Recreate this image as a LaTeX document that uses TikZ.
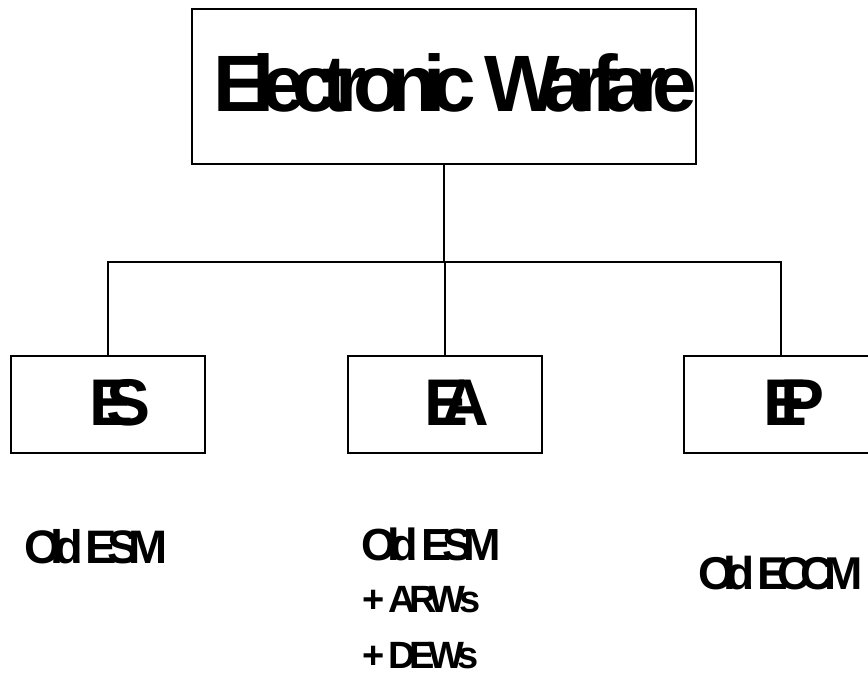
\documentclass[tikz,border=0pt]{standalone}
\usepackage{fontspec}
\setmainfont{Liberation Sans}[BoldFont={Liberation Sans Bold}]
\begin{document}
\begin{tikzpicture}[x=1pt,y=-1pt,
  boxed/.style={draw,line width=1.6pt,inner sep=0pt,minimum width=194pt,minimum height=97pt},
  lbl/.style={inner sep=0pt,anchor=base west},
  wire/.style={line width=1.6pt}]
\clip (0,0) rectangle (868,677);
\node[boxed,minimum width=504pt,minimum height=155pt] (ew) at (444,86.5) {};
\node[boxed] (es) at (108,404.5) {};
\node[boxed] (ea) at (445,404.5) {};
\node[boxed] (ep) at (781,404.5) {};
\coordinate (bar) at (0,262);
\draw[wire] (ew.south) -- (ew.south |- bar);
\draw[wire] (es.north) -- (es.north |- bar) -| (ep.north);
\draw[wire] (ea.north) -- (ea.north |- bar);
\node[lbl] (tew) at (213,111) {\fontsize{80}{80}\selectfont\bfseries\addfontfeatures{LetterSpace=-17.2}Electronic Warfare};
\node[lbl] (tes) at (89,425) {\fontsize{66}{66}\selectfont\bfseries\addfontfeatures{LetterSpace=-40}ES};
\node[lbl] (tea) at (424,425) {\fontsize{66}{66}\selectfont\bfseries\addfontfeatures{LetterSpace=-40}EA};
\node[lbl] (tep) at (763,425) {\fontsize{66}{66}\selectfont\bfseries\addfontfeatures{LetterSpace=-40}EP};
\node[lbl] (o1) at (24,563) {\fontsize{47}{47}\selectfont\bfseries\addfontfeatures{LetterSpace=-21}Old ESM};
\node[lbl] (o2) at (361,560) {\fontsize{45}{45}\selectfont\bfseries\addfontfeatures{LetterSpace=-20}Old ESM};
\node[lbl] (o3) at (362,612) {\fontsize{38}{38}\selectfont\bfseries\addfontfeatures{LetterSpace=-17}+ ARWs};
\node[lbl] (o4) at (362,668) {\fontsize{38}{38}\selectfont\bfseries\addfontfeatures{LetterSpace=-17}+ DEWs};
\node[lbl] (o5) at (698,589) {\fontsize{46}{46}\selectfont\bfseries\addfontfeatures{LetterSpace=-22}Old ECCM};
\end{tikzpicture}
\end{document}
